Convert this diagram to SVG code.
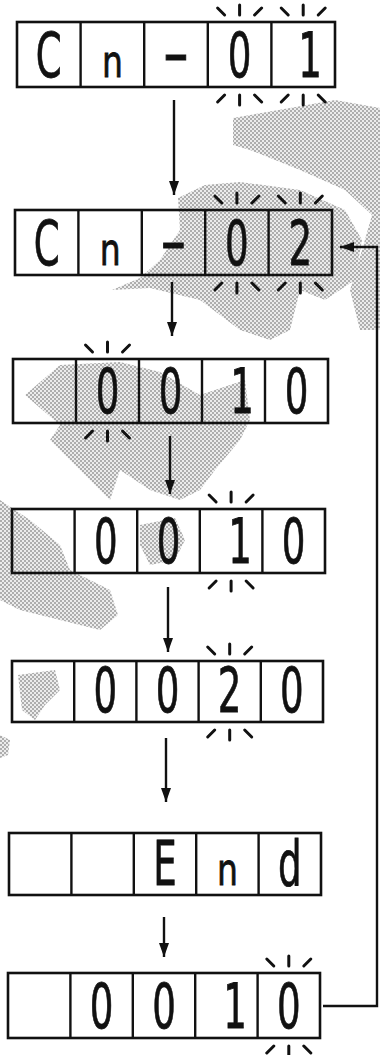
<svg xmlns="http://www.w3.org/2000/svg" xmlns:xlink="http://www.w3.org/1999/xlink" width="380" height="1055" viewBox="0 0 380 1055">
<style>
.box{fill:none;stroke:#111;stroke-width:2.6}
.div{stroke:#111;stroke-width:2.4}
.seg{font-family:"DejaVu Sans","Liberation Sans",sans-serif;font-size:62px;fill:#111;stroke:#111;stroke-width:0.8;text-anchor:middle}
.segs{font-family:"DejaVu Sans","Liberation Sans",sans-serif;font-size:44px;fill:#111;stroke:#111;stroke-width:0.8;text-anchor:middle}
.mk{stroke:#111;stroke-width:3;stroke-linecap:round}
.con{fill:none;stroke:#111;stroke-width:2.4}
.blob{fill:url(#dots)}
</style>
<defs>
<pattern id="dots" width="4" height="4" patternUnits="userSpaceOnUse">
<rect width="4" height="4" fill="#ececec"/>
<circle cx="1" cy="1" r="1" fill="#999"/>
<circle cx="3" cy="3" r="1" fill="#999"/>
</pattern>
<g id="blinkTop" class="mk"><line x1="-22" y1="-14" x2="-15" y2="-7"/><line x1="0" y1="-17" x2="0" y2="-7"/><line x1="22" y1="-14" x2="15" y2="-7"/></g>
<g id="blinkBot" class="mk"><line x1="-22" y1="15" x2="-15" y2="8"/><line x1="0" y1="8" x2="0" y2="18"/><line x1="22" y1="15" x2="15" y2="8"/></g>
<marker id="ah" viewBox="0 0 14 10" refX="14" refY="5" markerWidth="14" markerHeight="10" markerUnits="userSpaceOnUse" orient="auto"><path d="M0,0 L14,5 L0,10 z" fill="#111"/></marker>
</defs>

<g id="background-halftone">
<path class="blob" d="M233,118 L290,108 L335,100 L380,108 L380,330 L360,330 L350,290 L362,250 L372,215 L345,190 L300,170 L250,150 L233,145 z"/>
<path class="blob" d="M178,198 L205,185 L240,182 L300,190 L345,210 L362,240 L355,280 L325,300 L300,290 L290,330 L270,340 L240,330 L200,300 L150,288 L112,290 L140,278 L160,260 L180,230 z"/>
<path class="blob" d="M25,395 L60,365 L120,362 L160,372 L200,395 L245,380 L250,420 L240,440 L215,470 L200,490 L180,500 L150,490 L120,470 L110,500 L80,470 L50,440 L60,425 z"/>
<path class="blob" d="M0,500 L30,520 L60,545 L70,570 L110,590 L118,615 L100,630 L60,620 L20,610 L0,600 z"/>
<path class="blob" d="M140,525 L175,518 L185,540 L175,560 L150,565 L140,545 z"/>
<path class="blob" d="M18,675 L55,670 L60,690 L45,705 L35,720 L22,710 z"/>
<path class="blob" d="M0,735 L10,740 L8,755 L0,758 z"/>
</g>

<g id="connectors">
<line class="con" x1="174" y1="100" x2="174" y2="195" marker-end="url(#ah)"/>
<line class="con" x1="172" y1="282" x2="172" y2="336" marker-end="url(#ah)"/>
<line class="con" x1="170" y1="436" x2="170" y2="494" marker-end="url(#ah)"/>
<line class="con" x1="168" y1="587" x2="168" y2="652" marker-end="url(#ah)"/>
<line class="con" x1="166" y1="738" x2="166" y2="802" marker-end="url(#ah)"/>
<line class="con" x1="164" y1="917" x2="164" y2="957" marker-end="url(#ah)"/>
<path class="con" d="M323,1006 H377 V247 H340" marker-end="url(#ah)"/>
</g>

<g id="display-1">
<rect class="box" x="17" y="22" width="318" height="65"/>
<line class="div" x1="80.6" y1="22" x2="80.6" y2="87"/><line class="div" x1="144.2" y1="22" x2="144.2" y2="87"/><line class="div" x1="207.8" y1="22" x2="207.8" y2="87"/><line class="div" x1="271.4" y1="22" x2="271.4" y2="87"/>
<text class="seg" transform="translate(48.8,77) scale(0.6,1)">C</text>
<text class="segs" transform="translate(112.4,77) scale(0.75,1)">n</text>
<text class="seg" transform="translate(176,75) scale(1.2,1)">-</text>
<text class="seg" transform="translate(239.6,77) scale(0.6,1)">0</text>
<text class="seg" transform="translate(310,77) scale(0.6,1)">1</text>
<use xlink:href="#blinkTop" x="239.6" y="22"/><use xlink:href="#blinkBot" x="239.6" y="87"/>
<use xlink:href="#blinkTop" x="303.2" y="22"/><use xlink:href="#blinkBot" x="303.2" y="87"/>
</g>

<g id="display-2">
<rect class="box" x="15" y="210" width="317" height="65"/>
<line class="div" x1="78.4" y1="210" x2="78.4" y2="275"/><line class="div" x1="141.8" y1="210" x2="141.8" y2="275"/><line class="div" x1="205.2" y1="210" x2="205.2" y2="275"/><line class="div" x1="268.6" y1="210" x2="268.6" y2="275"/>
<text class="seg" transform="translate(46.7,265) scale(0.6,1)">C</text>
<text class="segs" transform="translate(110.1,265) scale(0.75,1)">n</text>
<text class="seg" transform="translate(173.5,263) scale(1.2,1)">-</text>
<text class="seg" transform="translate(236.9,265) scale(0.6,1)">0</text>
<text class="seg" transform="translate(300.3,265) scale(0.6,1)">2</text>
<use xlink:href="#blinkTop" x="236.9" y="210"/><use xlink:href="#blinkBot" x="236.9" y="275"/>
<use xlink:href="#blinkTop" x="300.3" y="210"/><use xlink:href="#blinkBot" x="300.3" y="275"/>
</g>

<g id="display-3">
<rect class="box" x="13" y="359" width="315" height="64"/>
<line class="div" x1="76" y1="359" x2="76" y2="423"/><line class="div" x1="139" y1="359" x2="139" y2="423"/><line class="div" x1="202" y1="359" x2="202" y2="423"/><line class="div" x1="265" y1="359" x2="265" y2="423"/>
<text class="seg" transform="translate(107.5,413) scale(0.6,1)">0</text>
<text class="seg" transform="translate(170.5,413) scale(0.6,1)">0</text>
<text class="seg" transform="translate(242,413) scale(0.6,1)">1</text>
<text class="seg" transform="translate(296.5,413) scale(0.6,1)">0</text>
<use xlink:href="#blinkTop" x="107.5" y="359"/><use xlink:href="#blinkBot" x="107.5" y="423"/>
</g>

<g id="display-4">
<rect class="box" x="12" y="509" width="313" height="64"/>
<line class="div" x1="74.6" y1="509" x2="74.6" y2="573"/><line class="div" x1="137.2" y1="509" x2="137.2" y2="573"/><line class="div" x1="199.8" y1="509" x2="199.8" y2="573"/><line class="div" x1="262.4" y1="509" x2="262.4" y2="573"/>
<text class="seg" transform="translate(105.9,563) scale(0.6,1)">0</text>
<text class="seg" transform="translate(168.5,563) scale(0.6,1)">0</text>
<text class="seg" transform="translate(240,563) scale(0.6,1)">1</text>
<text class="seg" transform="translate(293.7,563) scale(0.6,1)">0</text>
<use xlink:href="#blinkTop" x="231.1" y="509"/><use xlink:href="#blinkBot" x="231.1" y="573"/>
</g>

<g id="display-5">
<rect class="box" x="12" y="661" width="311" height="61"/>
<line class="div" x1="74.2" y1="661" x2="74.2" y2="722"/><line class="div" x1="136.4" y1="661" x2="136.4" y2="722"/><line class="div" x1="198.6" y1="661" x2="198.6" y2="722"/><line class="div" x1="260.8" y1="661" x2="260.8" y2="722"/>
<text class="seg" transform="translate(105.3,712) scale(0.6,1)">0</text>
<text class="seg" transform="translate(167.5,712) scale(0.6,1)">0</text>
<text class="seg" transform="translate(229.7,712) scale(0.6,1)">2</text>
<text class="seg" transform="translate(291.9,712) scale(0.6,1)">0</text>
<use xlink:href="#blinkTop" x="229.7" y="661"/><use xlink:href="#blinkBot" x="229.7" y="722"/>
</g>

<g id="display-6">
<rect class="box" x="9" y="833" width="312" height="62"/>
<line class="div" x1="71.4" y1="833" x2="71.4" y2="895"/><line class="div" x1="133.8" y1="833" x2="133.8" y2="895"/><line class="div" x1="196.2" y1="833" x2="196.2" y2="895"/><line class="div" x1="258.6" y1="833" x2="258.6" y2="895"/>
<text class="seg" transform="translate(165,885) scale(0.6,1)">E</text>
<text class="segs" transform="translate(227.4,885) scale(0.75,1)">n</text>
<text class="seg" transform="translate(289.8,885) scale(0.6,1)">d</text>
</g>

<g id="display-7">
<rect class="box" x="8" y="973" width="312" height="65"/>
<line class="div" x1="70.4" y1="973" x2="70.4" y2="1038"/><line class="div" x1="132.8" y1="973" x2="132.8" y2="1038"/><line class="div" x1="195.2" y1="973" x2="195.2" y2="1038"/><line class="div" x1="257.6" y1="973" x2="257.6" y2="1038"/>
<text class="seg" transform="translate(101.6,1028) scale(0.6,1)">0</text>
<text class="seg" transform="translate(164,1028) scale(0.6,1)">0</text>
<text class="seg" transform="translate(235,1028) scale(0.6,1)">1</text>
<text class="seg" transform="translate(288.8,1028) scale(0.6,1)">0</text>
<use xlink:href="#blinkTop" x="288.8" y="973"/><use xlink:href="#blinkBot" x="288.8" y="1038"/>
</g>
</svg>
